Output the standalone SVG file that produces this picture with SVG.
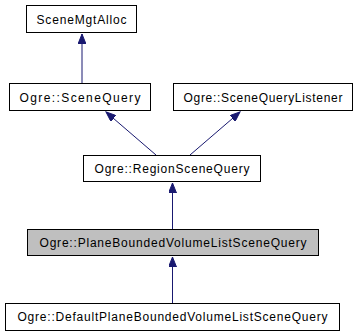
<svg xmlns="http://www.w3.org/2000/svg" width="361" height="336" viewBox="0 0 361 336">
  <style>
    .box { fill: #ffffff; stroke: #000000; stroke-width: 1; }
    .cur { fill: #bfbfbf; stroke: #000000; stroke-width: 1; }
    .lbl { font-family: "Liberation Sans", Arial, sans-serif; font-size: 12px; fill: #000000; text-anchor: middle; }
    .edge { fill: none; stroke: #191970; stroke-width: 1; marker-end: url(#inh); }
  </style>
  <defs>
    <marker id="inh" markerWidth="11" markerHeight="8" refX="10" refY="4" orient="auto" markerUnits="userSpaceOnUse">
      <path d="M0,0 L10,4 L0,8 Z" fill="#191970" stroke="#191970" stroke-width="1"/>
    </marker>
  </defs>
  <rect width="361" height="336" fill="#ffffff"/>

  <g id="edges">
    <path class="edge" d="M82,83 L82,34"/>
    <path class="edge" d="M156,155 L106,112"/>
    <path class="edge" d="M190,155 L240,112"/>
    <path class="edge" d="M172.5,229 L172.5,183"/>
    <path class="edge" d="M172.5,303 L172.5,257"/>
  </g>

  <g id="SceneMgtAlloc">
    <rect class="box" x="26.5" y="5.5" width="110" height="27"/>
    <text class="lbl" x="81.5" y="23.5" textLength="90" lengthAdjust="spacing">SceneMgtAlloc</text>
  </g>
  <g id="SceneQuery">
    <rect class="box" x="9.5" y="83.5" width="141" height="27"/>
    <text class="lbl" x="80" y="101.5" textLength="121" lengthAdjust="spacing">Ogre::SceneQuery</text>
  </g>
  <g id="SceneQueryListener">
    <rect class="box" x="173.5" y="83.5" width="179" height="27"/>
    <text class="lbl" x="263" y="101.5" textLength="159" lengthAdjust="spacing">Ogre::SceneQueryListener</text>
  </g>
  <g id="RegionSceneQuery">
    <rect class="box" x="83.5" y="155.5" width="177" height="26"/>
    <text class="lbl" x="172" y="173" textLength="155" lengthAdjust="spacing">Ogre::RegionSceneQuery</text>
  </g>
  <g id="PlaneBoundedVolumeListSceneQuery">
    <rect class="cur" x="27.5" y="229.5" width="291" height="26"/>
    <text class="lbl" x="173" y="247" textLength="267" lengthAdjust="spacing">Ogre::PlaneBoundedVolumeListSceneQuery</text>
  </g>
  <g id="DefaultPlaneBoundedVolumeListSceneQuery">
    <rect class="box" x="5.5" y="303.5" width="334" height="27"/>
    <text class="lbl" x="172.5" y="321" textLength="310" lengthAdjust="spacing">Ogre::DefaultPlaneBoundedVolumeListSceneQuery</text>
  </g>
</svg>
